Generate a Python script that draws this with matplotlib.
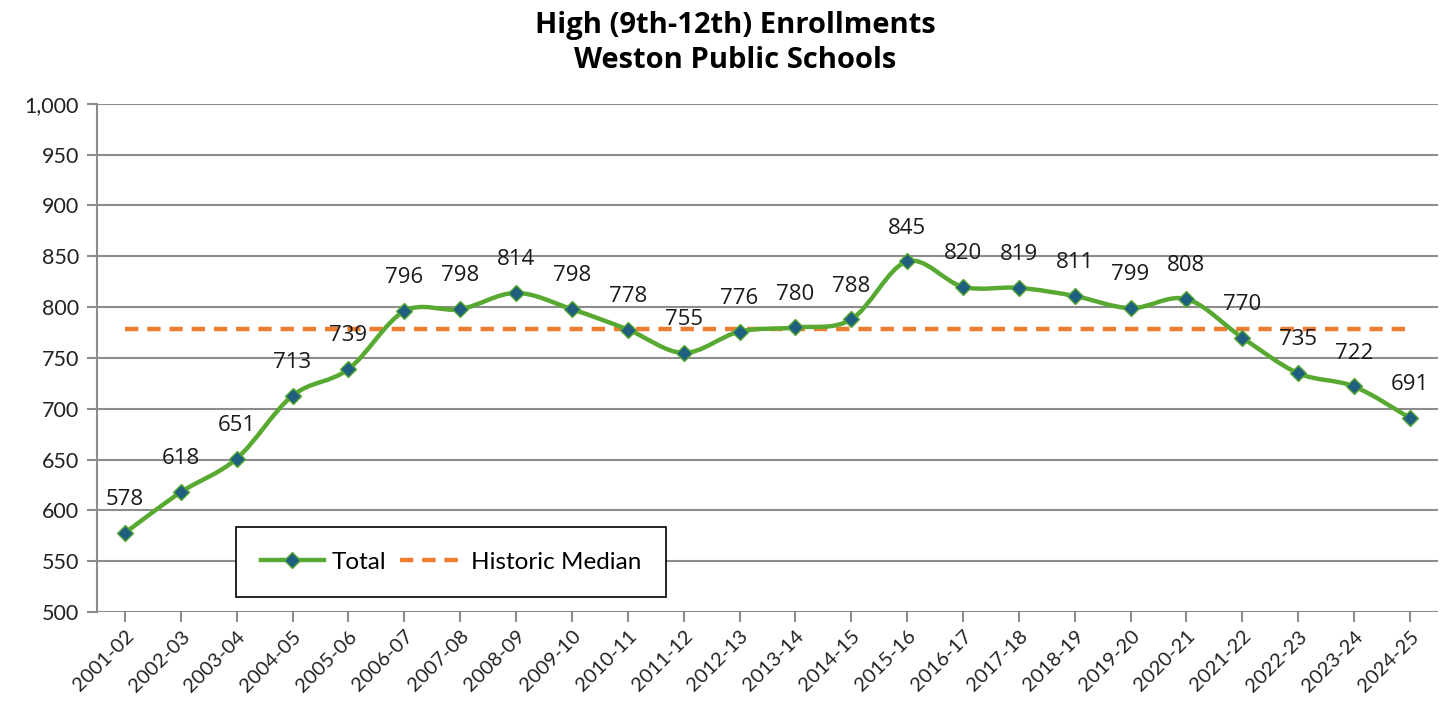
import numpy as np
import matplotlib.pyplot as plt
from matplotlib.path import Path
from matplotlib.patches import PathPatch
from matplotlib.lines import Line2D
from matplotlib.ticker import FuncFormatter

# --- DATOS ---
years = ['2001-02', '2002-03', '2003-04', '2004-05', '2005-06', '2006-07', '2007-08',
         '2008-09', '2009-10', '2010-11', '2011-12', '2012-13', '2013-14', '2014-15',
         '2015-16', '2016-17', '2017-18', '2018-19', '2019-20', '2020-21', '2021-22',
         '2022-23', '2023-24', '2024-25']
total = [578, 618, 651, 713, 739, 796, 798, 814, 798, 778, 755, 776, 780, 788,
         845, 820, 819, 811, 799, 808, 770, 735, 722, 691]
median = float(np.median(total))

green = '#58A931'
orange = '#ED7D31'
blue = '#1F5F7F'
grid_c = '#8C8C8C'

fig = plt.figure(figsize=(14.48, 7.11), dpi=100)
ax = fig.add_axes([0.067, 0.139, 0.926, 0.715])

x = np.arange(len(total))
y = np.array(total, dtype=float)

# linea suavizada estilo Excel (Bezier tipo Catmull-Rom)
verts = [(x[0], y[0])]
codes = [Path.MOVETO]
t = 1.0 / 6
for i in range(len(x) - 1):
    p0 = (x[max(i - 1, 0)], y[max(i - 1, 0)])
    p1 = (x[i], y[i])
    p2 = (x[i + 1], y[i + 1])
    p3 = (x[min(i + 2, len(x) - 1)], y[min(i + 2, len(x) - 1)])
    c1 = (p1[0] + (p2[0] - p0[0]) * t, p1[1] + (p2[1] - p0[1]) * t)
    c2 = (p2[0] - (p3[0] - p1[0]) * t, p2[1] - (p3[1] - p1[1]) * t)
    verts += [c1, c2, p2]
    codes += [Path.CURVE4] * 3
ax.add_patch(PathPatch(Path(verts, codes), fill=False, edgecolor=green, lw=3.2,
                       capstyle='round', joinstyle='round', zorder=3))
ax.plot(x, y, ls='none', marker='D', ms=8, mfc=blue, mec=green, mew=1, zorder=4)

ax.plot([x[0], x[-1]], [median, median], color=orange, lw=3.2, ls=(0, (3, 2)), zorder=2)

for xi, yi in zip(x, total):
    ax.annotate(str(yi), (xi, yi), xytext=(0, 24), textcoords='offset points',
                ha='center', va='center', fontsize=16, family='Open Sans', color='#1a1a1a')

ax.set_xlim(-0.5, len(total) - 0.5)
ax.set_ylim(500, 1000)
ax.set_yticks(range(500, 1001, 50))
ax.yaxis.set_major_formatter(FuncFormatter(lambda v, p: f'{int(v):,}'))
ax.set_xticks(x)
ax.set_xticklabels(years, rotation=45, ha='right', rotation_mode='anchor')
ax.grid(axis='y', color=grid_c, lw=1.5)
ax.set_axisbelow(True)
for s in ['top', 'right', 'bottom']:
    ax.spines[s].set_visible(False)
ax.spines['left'].set_color(grid_c)
ax.spines['left'].set_linewidth(1.5)
ax.tick_params(axis='y', length=7, width=1.5, color=grid_c, labelsize=15.5, pad=6)
ax.tick_params(axis='x', length=7, width=1.5, color=grid_c, labelsize=14.5, pad=4)
for lab in ax.get_yticklabels() + ax.get_xticklabels():
    lab.set_family('Lato')
    lab.set_color('#222222')

handles = [Line2D([], [], color=green, lw=3.2, marker='D', ms=8, mfc=blue, mec=green),
           Line2D([], [], color=orange, lw=3.2, ls=(0, (3, 2)))]
leg = ax.legend(handles, ['Total', 'Historic Median'], ncol=2, loc='lower left',
                bbox_to_anchor=(0.104, 0.03), borderaxespad=0,
                fancybox=False, framealpha=1, edgecolor='black', borderpad=1.0,
                handlelength=2.6, handletextpad=0.3, columnspacing=0.6,
                prop={'family': 'Lato', 'size': 17.5})
leg.get_frame().set_linewidth(1.2)

fig.text(0.508, 0.985, 'High (9th-12th) Enrollments\nWeston Public Schools',
         ha='center', va='top', fontsize=21, fontweight='bold', family='Open Sans',
         linespacing=1.3)

fig.savefig('out.png', dpi=100)
